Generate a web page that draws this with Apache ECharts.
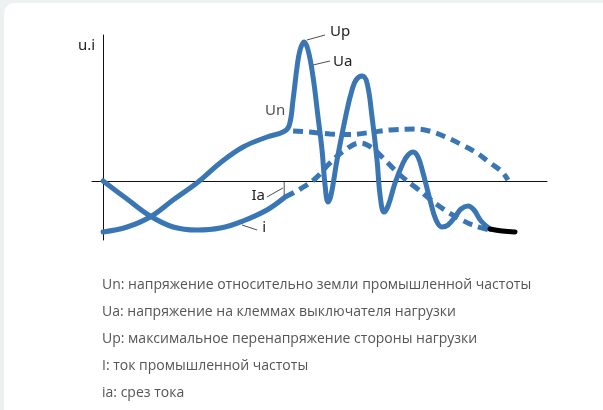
<!DOCTYPE html>
<html>
<head>
<meta charset="utf-8">
<script src="https://cdn.jsdelivr.net/npm/echarts@6/dist/echarts.min.js"></script>
<style>
html,body{margin:0;padding:0;background:#eef1f1;}
#card{position:absolute;left:4px;top:3px;width:609px;height:420px;background:#fff;border-radius:10px;}
#chart{position:absolute;left:0;top:0;width:603px;height:410px;}
</style>
</head>
<body>
<div id="card"></div>
<div id="chart"></div>
<script>
// time axis (arbitrary units) and amplitude (u.i, Un amplitude ~ 1)
const xRange = [-2.5, 100];
const yRange = [-1.18, 2.92];

// Un (solid, power-frequency voltage) continuing into Ua (voltage on breaker terminals)
const unUaSolid = [
  [0,-1.02],[5.41,-0.92],[10.59,-0.72],[15.77,-0.38],[21.40,-0.02],[26.35,0.36],[31.53,0.68],
  [36.94,0.88],[40.54,0.98],[41.89,1.10],[42.79,1.62],[43.69,2.28],[44.37,2.62],[45.27,2.78],
  [46.17,2.62],[47.30,2.08],[48.42,1.28],[49.32,0.62],[50.0,-0.08],[50.68,-0.42],[51.35,-0.28],
  [52.70,0.42],[54.95,1.42],[56.08,1.82],[56.98,2.02],[58.33,2.10],[59.46,1.96],[60.59,1.28],
  [61.71,0.42],[62.39,-0.28],[63.29,-0.62],[64.19,-0.50],[65.77,-0.04],[67.57,0.36],[68.69,0.52],
  [69.82,0.58],[70.95,0.48],[72.07,0.16],[73.65,-0.38],[75.0,-0.78],[76.35,-0.92],[77.70,-0.88],
  [79.28,-0.72],[80.63,-0.56],[82.21,-0.50],[83.56,-0.58],[85.14,-0.80],[87.16,-0.96]
];
// tail after oscillation dies out
const tailSegment = [[87.16,-0.96],[89.9,-1.0],[92.8,-1.02]];
// Un continuation (dashed)
const unDashed = [
  [42.8,1.0],[46.6,0.98],[51.1,0.94],[55.6,0.93],[60.1,0.97],[64.6,1.02],[70.3,1.04],
  [74.3,0.98],[77.7,0.86],[80.9,0.72],[84.2,0.56],[87.2,0.36],[89.9,0.18],[91.2,0.02]
];
// current i (solid until cut ia)
const iSolid = [
  [0,0],[5.4,-0.36],[10.6,-0.70],[15.8,-0.92],[21.2,-0.98],[26.4,-0.94],[31.5,-0.80],
  [36.9,-0.58],[41.0,-0.32]
];
// prospective current after cut (dashed)
const iDashed = [
  [41.0,-0.32],[44.4,-0.16],[47.7,0.04],[51.1,0.36],[54.5,0.62],[57.9,0.76],[60.6,0.66],
  [63.5,0.42],[66.9,0.12],[70.3,-0.12],[73.6,-0.36],[77.0,-0.58],[80.4,-0.76],[83.8,-0.90],[87.2,-0.98]
];
// cut marker
const cutTick = [[40.8,0],[40.8,-0.32]];
// annotation leaders
const leaders = [
  {name:'Up', from:[45.9,2.82], to:[50.0,2.92], pos:'right', dist:5, off:[0,-3]},
  {name:'Ua', from:[47.3,2.32], to:[51.1,2.40], pos:'right', dist:3, off:[0,1]},
  {name:'Ia', from:[40.5,-0.14], to:[36.9,-0.32], pos:'left', dist:2, off:[0,-1]},
  {name:'i', from:[31.3,-0.88], to:[34.7,-0.98], pos:'right', dist:5, off:[0,-2]}
];
const unLabelAt = [36.5, 1.40];
const axisName = 'u.i';
const legendLines = [
  'Un: напряжение относительно земли промышленной частоты',
  'Ua: напряжение на клеммах выключателя нагрузки',
  'Up: максимальное перенапряжение стороны нагрузки',
  'I: ток промышленной частоты',
  'ia: срез тока'
];

const BLUE = '#3a76b4';
const chart = echarts.init(document.getElementById('chart'), null, {renderer:'canvas'});
const labelFont = {fontFamily:'Noto Sans', fontSize:15, color:'#222'};

const series = [
  {type:'line', data:unUaSolid, smooth:0.4, showSymbol:false, clip:false, z:3,
   lineStyle:{color:BLUE, width:5, cap:'round', join:'round'}},
  {type:'line', data:unDashed, smooth:0.4, showSymbol:false, clip:false, z:2,
   lineStyle:{color:BLUE, width:5, type:[10,6]}},
  {type:'line', data:iSolid, smooth:0.4, showSymbol:false, clip:false, z:3,
   lineStyle:{color:BLUE, width:5, cap:'round'}},
  {type:'line', data:iDashed, smooth:0.4, showSymbol:false, clip:false, z:2,
   lineStyle:{color:BLUE, width:5, type:[10,6]}},
  {type:'line', data:tailSegment, smooth:0.4, showSymbol:false, clip:false, z:4,
   lineStyle:{color:'#000', width:5, cap:'round'}},
  {type:'line', data:cutTick, showSymbol:false, clip:false, z:1,
   lineStyle:{color:'#222', width:0.8}},
  {type:'scatter', data:[unLabelAt], symbolSize:0, clip:false,
   label:Object.assign({show:true, position:'right', distance:0, formatter:'Un'}, labelFont)}
];
leaders.forEach(l => {
  series.push({type:'line', showSymbol:true, symbolSize:0, clip:false, z:1,
    lineStyle:{color:'#222', width:0.8},
    data:[
      {value:l.from, symbol:'none'},
      {value:l.to, symbol:'circle', label:Object.assign({show:true, position:l.pos, distance:l.dist, offset:l.off, formatter:l.name}, labelFont)}
    ]});
});

const graphics = legendLines.map((t,i) => ({
  type:'text', left:102, top:278 + i*27.1,
  style:{text:t, fontFamily:'Open Sans', fontSize:14, fill:'#555'}
}));
graphics.push({type:'text', left:78, top:38, style:{text:axisName, fill:'#222', font:'15px "Noto Sans"'}});

chart.setOption({
  animation:false,
  grid:{left:92, right:56, top:35, bottom:170},
  xAxis:{type:'value', min:xRange[0], max:xRange[1],
    axisLine:{show:true, onZero:true, lineStyle:{color:'#111', width:1}},
    axisTick:{show:false}, axisLabel:{show:false}, splitLine:{show:false}},
  yAxis:{type:'value', min:yRange[0], max:yRange[1],
    axisLine:{show:true, onZero:true, lineStyle:{color:'#111', width:1}},
    axisTick:{show:false}, axisLabel:{show:false}, splitLine:{show:false}},
  series:series,
  graphic:graphics
});
</script>
</body>
</html>
